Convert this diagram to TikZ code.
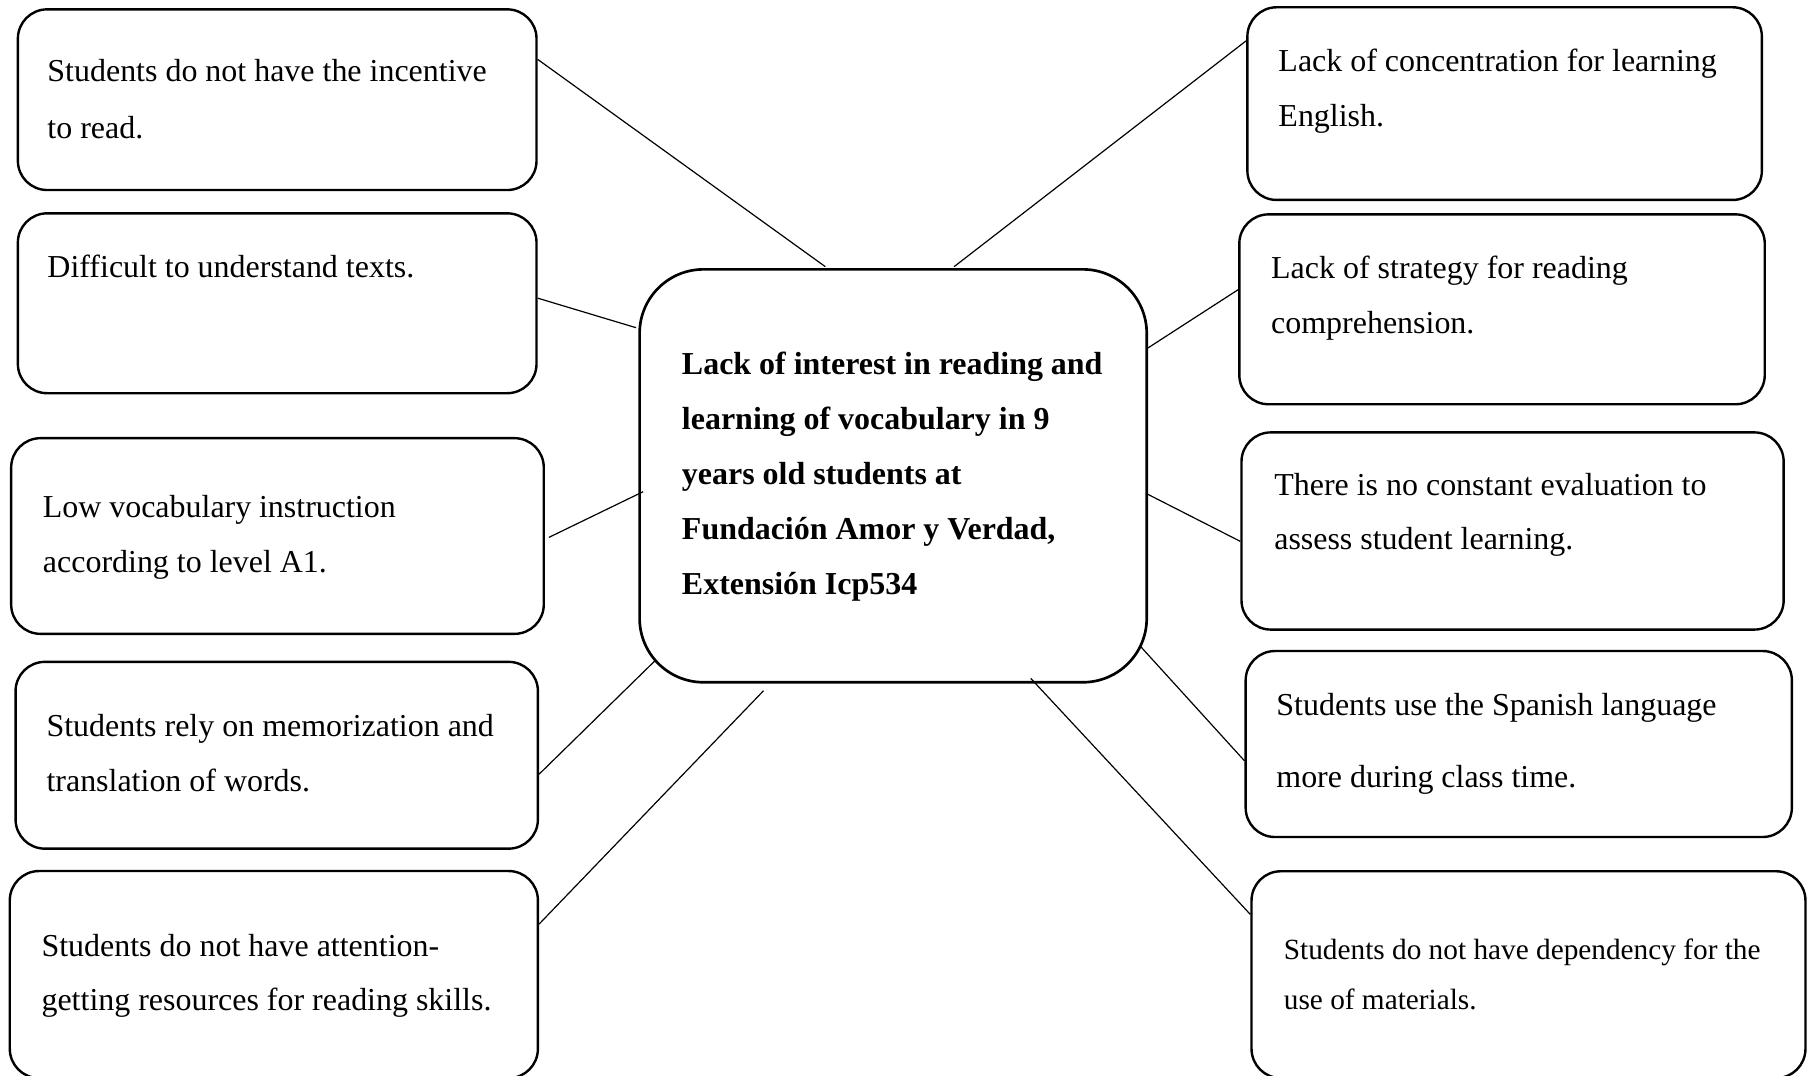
\documentclass[tikz,border=0pt]{standalone}
\usepackage{fontspec}
\setmainfont{Liberation Serif}[Ligatures=CommonOff]
\usetikzlibrary{fit,calc}
\begin{document}
\begin{tikzpicture}[x=0.433pt,y=-0.433pt,
  box/.style={draw, line width=0.9pt, rounded corners=11pt, inner sep=0pt, rectangle},
  hub/.style={draw, line width=1pt, rounded corners=24pt, inner sep=0pt, rectangle},
  conn/.style={line width=0.45pt},
  txt/.style={anchor=base west, inner sep=0pt, font=\fontsize{12}{14}\selectfont},
  stxt/.style={anchor=base west, inner sep=0pt, font=\fontsize{11}{13}\selectfont},
  btxt/.style={anchor=base west, inner sep=0pt, font=\fontsize{12}{14}\selectfont\bfseries}]
\useasboundingbox (0,0) rectangle (1568,933);
\clip (0,0) rectangle (1568,933);

% boxes
\node[box, fit={(15.5,8.1) (465.3,164.8)}] (b1) {};
\node[box, fit={(15.5,185) (465.3,341)}] (b2) {};
\node[box, fit={(9.7,380) (471.6,549.7)}] (b3) {};
\node[box, fit={(13.5,574) (466.5,736)}] (b4) {};
\node[box, fit={(8.5,755.4) (466.5,935)}] (b5) {};
\node[box, fit={(1081.8,6.3) (1528,173.4)}] (r1) {};
\node[box, fit={(1074.8,185.9) (1530.5,350.6)}] (r2) {};
\node[box, fit={(1076.7,375) (1546.9,546)}] (r3) {};
\node[box, fit={(1080.3,564.6) (1554,725.9)}] (r4) {};
\node[box, fit={(1085.4,755.6) (1565.8,935)}] (r5) {};
\node[hub, fit={(554.7,233.6) (994.5,591.7)}] (c) {};

% texts
\node[txt] (t1a) at (40.7,70.8) {Students do not have the incentive};
\node[txt] (t1b) at (40.7,120) {to read.};
\node[txt] (t2a) at (40.7,240.3) {Difficult to understand texts.};
\node[txt] (t3a) at (36.8,449) {\makebox[132.5pt][s]{Low vocabulary instruction}};
\node[txt] (t3b) at (36.8,496.4) {according to level A1.};
\node[txt] (t4a) at (39.9,639) {\makebox[168pt][s]{Students rely on memorization and}};
\node[txt] (t4b) at (39.9,686.5) {translation of words.};
\node[txt] (t5a) at (35.6,829.5) {Students do not have attention-};
\node[txt] (t5b) at (35.6,876.6) {getting resources for reading skills.};

\node[txt] (s1a) at (1108.3,62.2) {Lack of concentration for learning};
\node[txt] (s1b) at (1108.3,109.9) {English.};
\node[txt] (s2a) at (1102,241.4) {Lack of strategy for reading};
\node[txt] (s2b) at (1102,289) {comprehension.};
\node[txt] (s3a) at (1104.7,429.5) {There is no constant evaluation to};
\node[txt] (s3b) at (1104.7,476.5) {assess student learning.};
\node[txt] (s4a) at (1106.5,620.9) {Students use the Spanish language};
\node[txt] (s4b) at (1106.5,683.2) {more during class time.};
\node[stxt] (s5a) at (1113,831.7) {Students do not have dependency for the};
\node[stxt] (s5b) at (1113,875.2) {use of materials.};

\node[btxt] (ca) at (591,325.2) {Lack of interest in reading and};
\node[btxt] (cb) at (591,372.9) {learning of vocabulary in 9};
\node[btxt] (cc) at (591,420.6) {years old students at};
\node[btxt] (cd) at (591,467.7) {Fundación Amor y Verdad,};
\node[btxt] (ce) at (591,516) {Extensión Icp534};

% connector ends near the central box
\coordinate (e1) at (715.8,231.3);
\coordinate (e2) at (551.6,284.2);
\coordinate (e3) at (557.8,426.4);
\coordinate (e4) at (568.7,572.4);
\coordinate (e5) at (662.2,599);
\coordinate (f1) at (827.4,231.3);
\coordinate (f2) at (995.2,302);
\coordinate (f3) at (995.5,428.7);
\coordinate (f4) at (989.3,560.8);
\coordinate (f5) at (893.9,588.3);

% connectors
\draw[conn] ($(b1.north east)!0.28!(b1.south east)$) -- (e1);
\draw[conn] ($(b2.north east)!0.472!(b2.south east)$) -- (e2);
\draw[conn] ($(b3.north east)!0.507!(b3.south east)+(3.4,0)$) -- (e3);
\draw[conn] ($(b4.north east)!0.6!(b4.south east)$) -- (e4);
\draw[conn] ($(b5.north east)!0.259!(b5.south east)$) -- (e5);
\draw[conn] (f1) -- ($(r1.north west)!0.178!(r1.south west)$);
\draw[conn] (f2) -- ($(r2.north west)!0.398!(r2.south west)$);
\draw[conn] (f3) -- ($(r3.north west)!0.552!(r3.south west)$);
\draw[conn] (f4) -- ($(r4.north west)!0.589!(r4.south west)$);
\draw[conn] (f5) -- ($(r5.north west)!0.212!(r5.south west)$);
\end{tikzpicture}
\end{document}
